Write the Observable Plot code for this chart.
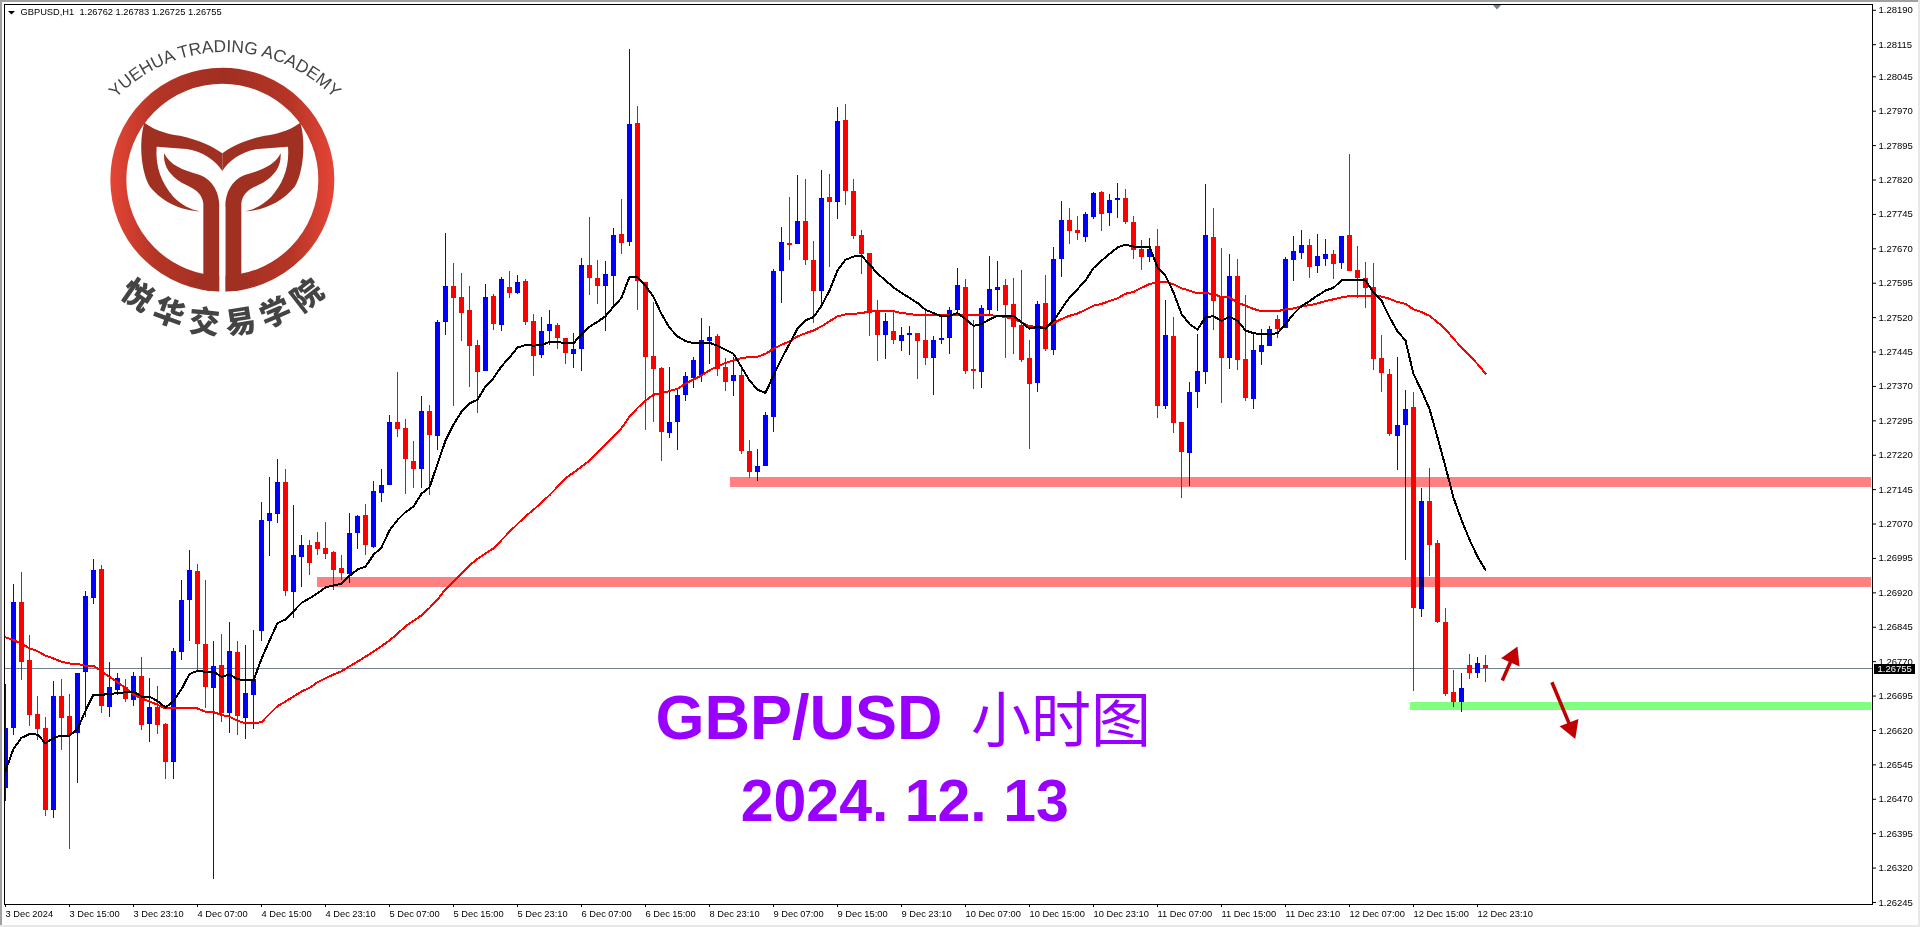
<!DOCTYPE html>
<html><head><meta charset="utf-8">
<style>
html,body{margin:0;padding:0;background:#fff;overflow:hidden}
#wrap{position:relative;width:1920px;height:927px;overflow:hidden}
#chart svg{display:block;max-width:none}
.strip{position:absolute;pointer-events:none}
#logo{position:absolute;left:0;top:0;pointer-events:none}
</style>
<script src="https://cdn.jsdelivr.net/npm/d3@7"></script>
<script src="https://cdn.jsdelivr.net/npm/@observablehq/plot@0.6"></script>
</head><body>
<div id="wrap">
<div id="chart"></div>
<svg id="logo" width="1920" height="927">
<defs><linearGradient id="rg" gradientUnits="userSpaceOnUse" x1="330" y1="0" x2="1003" y2="0">
<stop offset="0" stop-color="#e54536"/><stop offset=".2" stop-color="#b53526"/><stop offset=".5" stop-color="#a02f22"/><stop offset=".8" stop-color="#b53526"/><stop offset="1" stop-color="#e54536"/></linearGradient>
<path id="arcTop" d="M317,330 A455,455 0 0 1 1033,330"/>
<path id="arcBot" d="M232,697 A463,463 0 0 0 1102,697"/>
<g id="half"><path fill="#a03022" d="M433,368 C470,395 510,403 540,407 C600,420 640,440 667,460 L667,513 C645,480 610,455 560,447 L470,440 C465,500 485,550 520,590 C545,615 570,628 600,634 C550,632 490,610 450,560 C425,520 415,430 433,368 Z"/>
<path fill="#a03022" d="M492,460 C510,495 545,510 600,525 C640,540 658,580 658,620 L658,845 C658,855 640,870 625,873 L560,850 L610,825 L610,610 C605,575 580,565 545,548 C510,525 490,500 492,460 Z"/></g></defs>
<g transform="scale(0.33333)">
<circle cx="667" cy="539" r="312" fill="none" stroke="url(#rg)" stroke-width="48"/>
<use href="#half"/><use href="#half" transform="translate(1334,0) scale(-1,1)"/>
<rect x="658" y="620" width="18" height="260" fill="#fff"/>
<text font-family="Liberation Sans" font-size="52" fill="#444"><textPath href="#arcTop" startOffset="50%" text-anchor="middle">YUEHUA TRADING ACADEMY</textPath></text>
<text font-family="Noto Sans CJK SC" font-weight="900" font-size="92" letter-spacing="25" fill="#444"><textPath href="#arcBot" startOffset="51.2%" text-anchor="middle">悦华交易学院</textPath></text>
</g>
<polygon points="8,11 15,11 11.5,14.5" fill="#000"/>
<polygon points="1493,5 1501,5 1497,9.5" fill="#708090"/>
</svg>
<div class="strip" style="left:0;top:0;width:1920px;height:2px;background:#a0a0a0"></div>
<div class="strip" style="left:0;top:0;width:2px;height:927px;background:#a0a0a0"></div>
<div class="strip" style="left:0;top:925px;width:1920px;height:2px;background:#e8e8e8"></div>
<div class="strip" style="left:1918px;top:0;width:2px;height:927px;background:#e8e8e8"></div>
</div>
<script>
const open = [
1.26494,1.26625,1.26899,1.26772,1.26654,1.26624,1.26446,1.26694,1.26650,1.26614,
1.26747,1.26907,1.26971,1.26670,1.26707,1.26713,1.26686,1.26737,1.26633,1.26670,
1.26633,1.26551,1.26790,1.26903,1.26966,1.26807,1.26711,1.26761,1.26657,1.26790,
1.26646,1.26696,1.26836,1.27075,1.27090,1.27160,1.26920,1.26997,1.27023,1.27029,
1.27016,1.27008,1.26973,1.26960,1.27049,1.27088,1.27019,1.27136,1.27154,1.27291,
1.27278,1.27206,1.27189,1.27315,1.27260,1.27509,1.27588,1.27564,1.27535,1.27459,
1.27402,1.27566,1.27503,1.27585,1.27572,1.27598,1.27511,1.27437,1.27489,1.27503,
1.27474,1.27439,1.27450,1.27633,1.27605,1.27588,1.27609,1.27701,1.27684,1.27943,
1.27597,1.27435,1.27409,1.27267,1.27291,1.27350,1.27387,1.27394,1.27468,1.27479,
1.27411,1.27381,1.27394,1.27228,1.27182,1.27195,1.27302,1.27621,1.27682,1.27679,
1.27730,1.27645,1.27577,1.27782,1.27771,1.27950,1.27795,1.27699,1.27660,1.27533,
1.27481,1.27490,1.27468,1.27481,1.27485,1.27470,1.27431,1.27470,1.27475,1.27536,
1.27585,1.27407,1.27400,1.27535,1.27579,1.27590,1.27548,1.27502,1.27431,1.27376,
1.27550,1.27448,1.27646,1.27731,1.27710,1.27694,1.27738,1.27792,1.27747,1.27775,
1.27779,1.27727,1.27668,1.27651,1.27675,1.27326,1.27479,1.27291,1.27223,1.27356,
1.27400,1.27694,1.27566,1.27431,1.27609,1.27428,1.27341,1.27444,1.27457,1.27516,
1.27496,1.27644,1.27660,1.27677,1.27631,1.27647,1.27657,1.27638,1.27699,1.27623,
1.27605,1.27586,1.27431,1.27396,1.27261,1.27285,1.27324,1.26884,1.27120,1.27028,
1.26856,1.26703,1.26681,1.26762,1.26745,1.26762];
const high = [
1.26720,1.26938,1.26965,1.26827,1.26694,1.26648,1.26726,1.26731,1.26698,1.26744,
1.26923,1.26992,1.26979,1.26768,1.26744,1.26731,1.26746,1.26779,1.26733,1.26715,
1.26635,1.26798,1.26947,1.27012,1.26981,1.26947,1.26814,1.26829,1.26855,1.26814,
1.26805,1.26838,1.27117,1.27171,1.27210,1.27189,1.27110,1.27045,1.27034,1.27051,
1.27073,1.27010,1.27001,1.27093,1.27088,1.27112,1.27162,1.27189,1.27306,1.27400,
1.27298,1.27250,1.27348,1.27328,1.27513,1.27703,1.27638,1.27616,1.27588,1.27470,
1.27592,1.27570,1.27607,1.27620,1.27611,1.27603,1.27526,1.27520,1.27535,1.27507,
1.27474,1.27485,1.27649,1.27738,1.27644,1.27642,1.27714,1.27778,1.28105,1.27980,
1.27597,1.27553,1.27411,1.27411,1.27361,1.27400,1.27433,1.27518,1.27501,1.27483,
1.27431,1.27433,1.27413,1.27252,1.27233,1.27313,1.27625,1.27717,1.27782,1.27830,
1.27821,1.27686,1.27841,1.27832,1.27978,1.27985,1.27821,1.27710,1.27660,1.27557,
1.27529,1.27533,1.27499,1.27501,1.27485,1.27540,1.27479,1.27525,1.27542,1.27627,
1.27603,1.27513,1.27546,1.27653,1.27642,1.27603,1.27605,1.27622,1.27470,1.27555,
1.27611,1.27673,1.27773,1.27758,1.27740,1.27749,1.27792,1.27795,1.27788,1.27812,
1.27799,1.27740,1.27688,1.27692,1.27712,1.27557,1.27520,1.27291,1.27378,1.27483,
1.27810,1.27758,1.27670,1.27657,1.27646,1.27568,1.27487,1.27494,1.27500,1.27524,
1.27651,1.27697,1.27710,1.27690,1.27701,1.27690,1.27666,1.27697,1.27875,1.27675,
1.27640,1.27638,1.27481,1.27407,1.27433,1.27361,1.27357,1.27148,1.27192,1.27035,
1.26886,1.26751,1.26745,1.26786,1.26780,1.26783];
const low = [
1.26465,1.26609,1.26729,1.26628,1.26598,1.26432,1.26428,1.26576,1.26360,1.26504,
1.26649,1.26894,1.26657,1.26648,1.26696,1.26681,1.26672,1.26620,1.26593,1.26612,
1.26513,1.26513,1.26772,1.26814,1.26750,1.26668,1.26295,1.26637,1.26613,1.26609,
1.26600,1.26622,1.26814,1.26999,1.27071,1.26912,1.26864,1.26931,1.26957,1.27001,
1.26992,1.26925,1.26947,1.26940,1.27014,1.27001,1.27016,1.27117,1.27154,1.27258,
1.27134,1.27147,1.27147,1.27132,1.27230,1.27481,1.27326,1.27468,1.27367,1.27311,
1.27402,1.27492,1.27489,1.27561,1.27570,1.27503,1.27391,1.27431,1.27459,1.27450,
1.27417,1.27409,1.27402,1.27568,1.27548,1.27489,1.27546,1.27658,1.27674,1.27536,
1.27274,1.27291,1.27206,1.27257,1.27230,1.27337,1.27366,1.27379,1.27418,1.27392,
1.27359,1.27348,1.27222,1.27169,1.27163,1.27195,1.27270,1.27551,1.27645,1.27679,
1.27634,1.27507,1.27540,1.27629,1.27734,1.27764,1.27690,1.27614,1.27479,1.27424,
1.27429,1.27461,1.27446,1.27437,1.27385,1.27416,1.27350,1.27461,1.27440,1.27525,
1.27396,1.27363,1.27365,1.27526,1.27533,1.27431,1.27439,1.27422,1.27232,1.27356,
1.27446,1.27437,1.27607,1.27679,1.27688,1.27683,1.27734,1.27707,1.27718,1.27736,
1.27723,1.27646,1.27622,1.27640,1.27300,1.27319,1.27267,1.27125,1.27151,1.27322,
1.27374,1.27492,1.27332,1.27407,1.27404,1.27337,1.27319,1.27415,1.27457,1.27474,
1.27496,1.27599,1.27647,1.27605,1.27616,1.27631,1.27603,1.27625,1.27620,1.27562,
1.27540,1.27405,1.27357,1.27261,1.27187,1.26991,1.26705,1.26867,1.26956,1.26854,
1.26694,1.26671,1.26660,1.26732,1.26734,1.26725];
const close = [
1.26624,1.26899,1.26769,1.26653,1.26622,1.26446,1.26694,1.26646,1.26609,1.26744,
1.26912,1.26968,1.26673,1.26713,1.26733,1.26688,1.26737,1.26631,1.26670,1.26631,
1.26551,1.26792,1.26903,1.26968,1.26808,1.26714,1.26759,1.26657,1.26792,1.26651,
1.26700,1.26731,1.27077,1.27093,1.27160,1.26923,1.27001,1.27023,1.26984,1.27014,
1.27003,1.26968,1.26962,1.27049,1.27086,1.27023,1.27141,1.27154,1.27291,1.27276,
1.27210,1.27189,1.27315,1.27263,1.27509,1.27588,1.27561,1.27529,1.27457,1.27400,
1.27564,1.27505,1.27603,1.27572,1.27596,1.27509,1.27435,1.27489,1.27505,1.27474,
1.27441,1.27450,1.27633,1.27605,1.27588,1.27614,1.27699,1.27682,1.27941,1.27599,
1.27432,1.27407,1.27270,1.27291,1.27350,1.27392,1.27427,1.27470,1.27477,1.27407,
1.27379,1.27394,1.27228,1.27182,1.27195,1.27307,1.27621,1.27684,1.27677,1.27730,
1.27645,1.27577,1.27780,1.27771,1.27948,1.27795,1.27697,1.27658,1.27530,1.27481,
1.27512,1.27470,1.27481,1.27485,1.27468,1.27431,1.27470,1.27475,1.27536,1.27590,
1.27402,1.27402,1.27540,1.27581,1.27585,1.27546,1.27498,1.27426,1.27374,1.27548,
1.27450,1.27646,1.27731,1.27707,1.27703,1.27744,1.27790,1.27744,1.27775,1.27779,
1.27727,1.27666,1.27651,1.27668,1.27326,1.27481,1.27289,1.27226,1.27356,1.27402,
1.27699,1.27555,1.27431,1.27609,1.27426,1.27343,1.27448,1.27459,1.27494,1.27494,
1.27647,1.27664,1.27677,1.27629,1.27653,1.27657,1.27636,1.27697,1.27620,1.27605,
1.27583,1.27429,1.27398,1.27265,1.27285,1.27320,1.26886,1.27120,1.27024,1.26856,
1.26699,1.26681,1.26712,1.26745,1.26766,1.26755];
const maFast = [
1.26532,1.26580,1.26604,1.26612,1.26611,1.26592,1.26604,1.26609,1.26609,1.26623,
1.26663,1.26698,1.26698,1.26699,1.26702,1.26703,1.26705,1.26694,1.26694,1.26684,
1.26670,1.26684,1.26710,1.26743,1.26750,1.26748,1.26748,1.26737,1.26742,1.26732,
1.26729,1.26729,1.26776,1.26816,1.26854,1.26862,1.26880,1.26898,1.26908,1.26919,
1.26932,1.26936,1.26940,1.26957,1.26971,1.26977,1.27003,1.27019,1.27056,1.27079,
1.27096,1.27108,1.27136,1.27150,1.27201,1.27252,1.27287,1.27315,1.27333,1.27341,
1.27370,1.27388,1.27414,1.27433,1.27455,1.27460,1.27459,1.27460,1.27467,1.27467,
1.27464,1.27464,1.27484,1.27500,1.27511,1.27523,1.27544,1.27563,1.27609,1.27608,
1.27590,1.27565,1.27528,1.27498,1.27479,1.27469,1.27464,1.27464,1.27465,1.27459,
1.27450,1.27441,1.27412,1.27383,1.27363,1.27356,1.27394,1.27430,1.27463,1.27496,
1.27514,1.27521,1.27546,1.27579,1.27623,1.27646,1.27653,1.27655,1.27636,1.27616,
1.27601,1.27586,1.27574,1.27563,1.27552,1.27537,1.27530,1.27523,1.27524,1.27530,
1.27517,1.27502,1.27506,1.27516,1.27524,1.27524,1.27524,1.27510,1.27496,1.27500,
1.27496,1.27513,1.27539,1.27564,1.27582,1.27601,1.27628,1.27644,1.27659,1.27673,
1.27679,1.27675,1.27675,1.27675,1.27630,1.27611,1.27575,1.27528,1.27506,1.27494,
1.27521,1.27523,1.27513,1.27522,1.27513,1.27492,1.27486,1.27484,1.27484,1.27486,
1.27506,1.27528,1.27545,1.27556,1.27568,1.27579,1.27585,1.27601,1.27603,1.27603,
1.27601,1.27575,1.27557,1.27521,1.27490,1.27470,1.27397,1.27361,1.27321,1.27259,
1.27195,1.27127,1.27079,1.27036,1.26999,1.26970];
const maSlow = [
1.26823,1.26817,1.26809,1.26799,1.26793,1.26783,1.26777,1.26770,1.26766,1.26765,
1.26761,1.26761,1.26749,1.26737,1.26725,1.26713,1.26698,1.26690,1.26683,1.26676,
1.26668,1.26668,1.26668,1.26668,1.26668,1.26661,1.26660,1.26654,1.26650,1.26641,
1.26636,1.26636,1.26638,1.26656,1.26673,1.26683,1.26694,1.26705,1.26713,1.26725,
1.26734,1.26742,1.26749,1.26760,1.26770,1.26781,1.26792,1.26804,1.26816,1.26831,
1.26847,1.26859,1.26871,1.26887,1.26905,1.26928,1.26945,1.26963,1.26980,1.26994,
1.27006,1.27017,1.27035,1.27053,1.27070,1.27087,1.27101,1.27117,1.27133,1.27151,
1.27170,1.27182,1.27195,1.27208,1.27226,1.27243,1.27260,1.27279,1.27304,1.27323,
1.27339,1.27352,1.27355,1.27360,1.27365,1.27376,1.27385,1.27394,1.27405,1.27414,
1.27421,1.27427,1.27432,1.27434,1.27435,1.27441,1.27452,1.27461,1.27468,1.27479,
1.27486,1.27492,1.27501,1.27512,1.27523,1.27527,1.27528,1.27530,1.27533,1.27534,
1.27534,1.27534,1.27530,1.27528,1.27525,1.27525,1.27525,1.27525,1.27526,1.27526,
1.27526,1.27525,1.27525,1.27525,1.27524,1.27521,1.27517,1.27510,1.27501,1.27500,
1.27500,1.27508,1.27517,1.27524,1.27529,1.27537,1.27546,1.27550,1.27556,1.27562,
1.27572,1.27576,1.27585,1.27593,1.27597,1.27598,1.27593,1.27584,1.27579,1.27573,
1.27573,1.27572,1.27564,1.27564,1.27553,1.27546,1.27539,1.27534,1.27534,1.27534,
1.27538,1.27540,1.27545,1.27547,1.27551,1.27556,1.27560,1.27564,1.27567,1.27567,
1.27568,1.27568,1.27566,1.27561,1.27554,1.27550,1.27538,1.27532,1.27524,1.27510,
1.27495,1.27474,1.27455,1.27437,1.27419,1.27398];
const yTicks = [1.28190,1.28115,1.28045,1.27970,1.27895,1.27820,1.27745,1.27670,1.27595,1.27520,1.27445,1.27370,1.27295,1.27220,1.27145,1.27070,1.26995,1.26920,1.26845,1.26770,1.26695,1.26620,1.26545,1.26470,1.26395,1.26320,1.26245];
const xLabels = ["3 Dec 2024","3 Dec 15:00","3 Dec 23:10","4 Dec 07:00","4 Dec 15:00","4 Dec 23:10","5 Dec 07:00","5 Dec 15:00","5 Dec 23:10","6 Dec 07:00","6 Dec 15:00","8 Dec 23:10","9 Dec 07:00","9 Dec 15:00","9 Dec 23:10","10 Dec 07:00","10 Dec 15:00","10 Dec 23:10","11 Dec 07:00","11 Dec 15:00","11 Dec 23:10","12 Dec 07:00","12 Dec 15:00","12 Dec 23:10"];
const xTickBars = xLabels.map((_, k) => k * 8);
const lastPrice = 1.26755;
const header = "GBPUSD,H1  1.26762 1.26783 1.26725 1.26755";
const zones = [
  {x1: 90.6, x2: 233.25, y1: 1.27150, y2: 1.27172, fill: "#ff8080"},
  {x1: 39, x2: 233.25, y1: 1.26931, y2: 1.26953, fill: "#ff8080"},
  {x1: 175.6, x2: 233.25, y1: 1.26664, y2: 1.26681, fill: "#80ff80"}
];
const arrowLinks = [
  {x1: 187.1, y1: 1.26729, x2: 188.4, y2: 1.26780},
  {x1: 193.3, y1: 1.26725, x2: 195.7, y2: 1.26625}
];
const arrowHeads = [
  {x: 188.4, y: 1.26780, a: 24},
  {x: 195.7, y: 1.26625, a: 159}
];
const bars = open.map((o, i) => ({i, o, h: high[i], l: low[i], c: close[i], fast: maFast[i], slow: maSlow[i]}));
const colour = d => d.c >= d.o ? "#0000ff" : "#ff0000";
const purple = "#9900ff";
const sans = "Liberation Sans";

const chart = Plot.plot({
  width: 1920, height: 927,
  marginLeft: 4, marginRight: 48, marginTop: 4, marginBottom: 23,
  style: {fontFamily: sans, fontSize: "9.5px", background: "transparent", color: "#000"},
  x: {domain: [-0.125, 233.375]},
  y: {domain: [1.262406, 1.282026]},
  marks: [
    Plot.ruleY([lastPrice], {stroke: "#708090", strokeWidth: 1, shapeRendering: "crispEdges"}),
    Plot.ruleX(bars, {x: "i", y1: "l", y2: "h", stroke: colour, strokeWidth: 1, shapeRendering: "crispEdges", clip: true}),
    Plot.ruleX(bars, {x: "i", y1: "o", y2: "c", stroke: colour, strokeWidth: 5, shapeRendering: "crispEdges", clip: true}),
    Plot.line(bars, {x: "i", y: "slow", stroke: "#ff0000", strokeWidth: 2, curve: "linear", clip: true, shapeRendering: "crispEdges"}),
    Plot.line(bars, {x: "i", y: "fast", stroke: "#000000", strokeWidth: 2, curve: "linear", clip: true, shapeRendering: "crispEdges"}),
    Plot.rect(zones, {x1: "x1", x2: "x2", y1: "y1", y2: "y2", fill: "fill", mixBlendMode: "multiply", shapeRendering: "crispEdges"}),
    Plot.link(arrowLinks, {x1: "x1", y1: "y1", x2: "x2", y2: "y2", stroke: "#c00000", strokeWidth: 3.5}),
    Plot.dot(arrowHeads, {x: "x", y: "y", symbol: "triangle", r: 7.5, fill: "#c00000", rotate: "a"}),
    Plot.text(["GBP/USD"], {x: 81.25, y: 1.26602, text: d => d, textAnchor: "start", lineAnchor: "bottom", fontSize: 63, fontWeight: "bold", fontFamily: sans, fill: purple}),
    Plot.text(["小时图"], {x: 120.7, y: 1.26594, text: d => d, textAnchor: "start", lineAnchor: "bottom", fontSize: 60, fontFamily: "Noto Sans CJK SC", fill: purple}),
    Plot.text(["2024. 12. 13"], {x: 91.9, y: 1.26422, text: d => d, textAnchor: "start", lineAnchor: "bottom", fontSize: 59, fontWeight: "bold", fontFamily: sans, fill: purple}),
    Plot.text([header], {frameAnchor: "top-left", dx: 16, dy: 4, text: d => d, fill: "#000", fontSize: 9.3}),
    Plot.axisY(yTicks, {anchor: "right", tickSize: 3, tickPadding: 3, tickFormat: d3.format(".5f"), label: null}),
    Plot.axisX(xTickBars, {anchor: "bottom", tickSize: 3, tickPadding: 3, tickFormat: i => xLabels[i / 8], textAnchor: "start", label: null, fontSize: 9.3}),
    Plot.rect([lastPrice], {x1: 233.6, x2: 238.75, y1: 1.26742, y2: 1.26764, fill: "#000", shapeRendering: "crispEdges"}),
    Plot.text([lastPrice], {x: 234, y: d => d, text: d => d.toFixed(5), fill: "#fff", textAnchor: "start"}),
    Plot.frame({stroke: "#000", strokeWidth: 1})
  ]
});
document.getElementById("chart").appendChild(chart);
</script>
</body></html>
